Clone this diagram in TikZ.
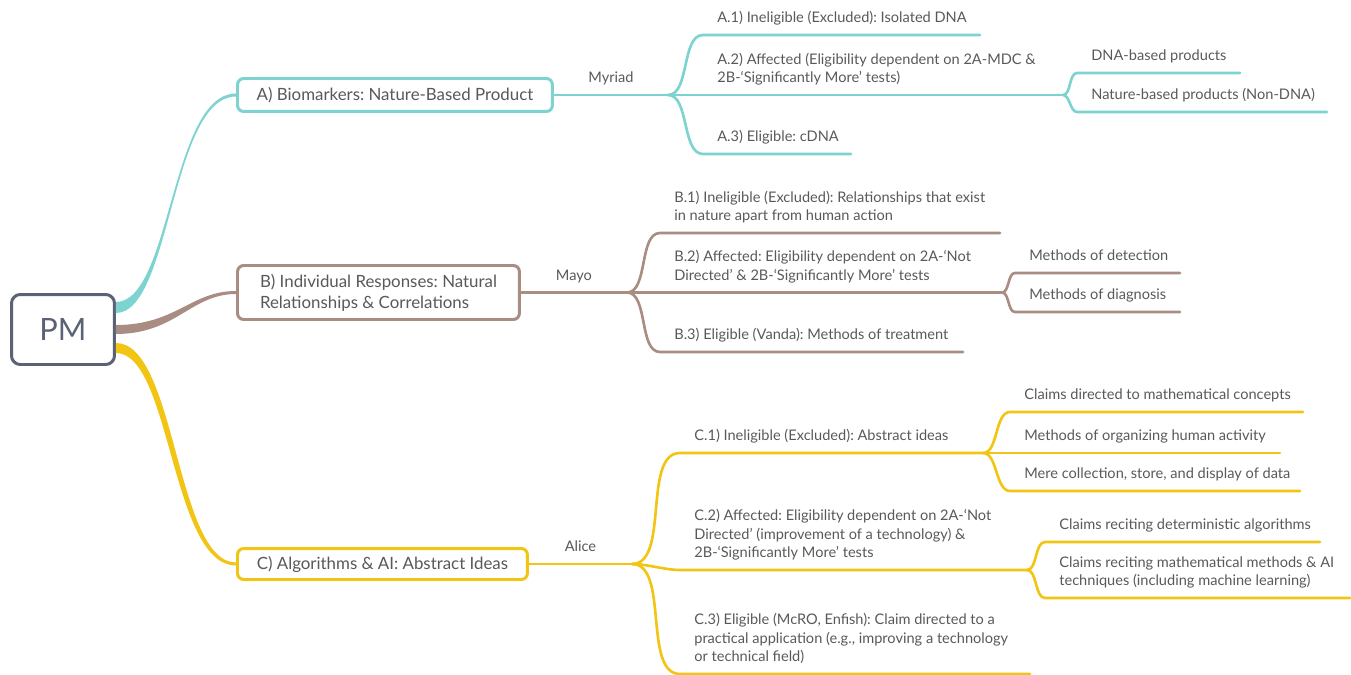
\documentclass[tikz,border=0pt]{standalone}
\usepackage{fontspec}
\setmainfont{Lato}
\usetikzlibrary{calc}
\frenchspacing
\definecolor{pmgray}{HTML}{5B6275}
\definecolor{tealc}{HTML}{7DD3D0}
\definecolor{brownc}{HTML}{A98C82}
\definecolor{yellowc}{HTML}{F2C414}
\definecolor{txtgray}{HTML}{595959}
\tikzset{
  topic/.style={draw, rounded corners=3.5pt, line width=1.7pt, fill=white, anchor=west,
    align=left, text=txtgray, font=\fontsize{9.6}{12}\selectfont},
  leaf/.style={anchor=base west, align=left, inner sep=0pt, text=txtgray,
    font=\fontsize{8.3}{10.5}\selectfont},
  linkname/.style={midway, anchor=base, yshift=7pt, inner sep=0pt, text=txtgray,
    font=\fontsize{8.3}{10.5}\selectfont},
  twig/.style={line width=1.5pt},
}
\begin{document}
\begin{tikzpicture}[x=0.02cm, y=-0.02cm, line cap=round, line join=round]
\useasboundingbox (0,0) rectangle (1351,675);

% root and main topics
\node[draw=pmgray, line width=1.7pt, rounded corners=5pt, minimum width=2.06cm, minimum height=1.4cm,
  text=pmgray, font=\fontsize{17.5}{20}\selectfont] (PM) at (63,329.5) {PM};
\node[topic, draw=tealc, minimum width=6.3cm, minimum height=0.66cm] (A) at (236,95) {A) Biomarkers: Nature-Based Product};
\node[topic, draw=brownc, minimum width=5.64cm, minimum height=1.08cm] (B) at (236,292.5) {B) Individual Responses: Natural\\Relationships \& Correlations};
\node[topic, draw=yellowc, minimum width=5.8cm, minimum height=0.62cm] (C) at (236,564) {C) Algorithms \& AI: Abstract Ideas};

% tapered branches out of the root
\fill[tealc] ($(PM.east)+(0,-27.5)$) .. controls +(55,0) and +(-65,0) .. ($(A.west)+(0,-1.5)$)
  -- ($(A.west)+(0,1.5)$) .. controls +(-65,0) and +(55,0) .. ($(PM.east)+(0,-16.5)$) -- cycle;
\fill[brownc] ($(PM.east)+(0,-4.5)$) .. controls +(60,0) and +(-45,0) .. ($(B.west)+(0,-1.5)$)
  -- ($(B.west)+(0,1.5)$) .. controls +(-45,0) and +(60,0) .. ($(PM.east)+(0,4.5)$) -- cycle;
\fill[yellowc] ($(PM.east)+(0,13.5)$) .. controls +(60,0) and +(-60,0) .. ($(C.west)+(0,-1.5)$)
  -- ($(C.west)+(0,1.5)$) .. controls +(-65,0) and +(55,0) .. ($(PM.east)+(0,23.5)$) -- cycle;

% A) Myriad
\coordinate (Aj) at (668,95);
\draw[twig, tealc] (A.east) -- node[linkname] {Myriad} (Aj);
\foreach \from/\nm/\xs/\yy/\xe/\txt in {
  Aj/a1/703/35/980/{A.1) Ineligible (Excluded): Isolated DNA},
  Aj/a2/703/95/1063/{A.2) Affected (Eligibility dependent on 2A-MDC \&\\2B-‘Significantly More’ tests)},
  Aj/a3/703/154/851/{A.3) Eligible: cDNA},
  a2e/a21/1077/73/1240/{DNA-based products},
  a2e/a22/1077/112/1327/{Nature-based products (Non-DNA)}}
{
  \coordinate (\nm s) at (\xs,\yy);
  \coordinate (\nm e) at (\xe,\yy);
  \draw[twig, tealc] (\from) to[out=0, in=180, looseness=0.8] (\nm s) -- (\nm e);
  \node[leaf] (\nm) at (\xs+14,\yy-12.5) {\txt};
}

% B) Mayo
\coordinate (Bj) at (627,292.5);
\draw[twig, brownc] (B.east) -- node[linkname] {Mayo} (Bj);
\foreach \from/\nm/\xs/\yy/\xe/\txt in {
  Bj/b1/660/233/1000/{B.1) Ineligible (Excluded): Relationships that exist\\in nature apart from human action},
  Bj/b2/660/292.5/1002/{B.2) Affected: Eligibility dependent on 2A-‘Not\\Directed’ \& 2B-‘Significantly More’ tests},
  Bj/b3/660/352/963/{B.3) Eligible (Vanda): Methods of treatment},
  b2e/b21/1015/273/1180/{Methods of detection},
  b2e/b22/1015/312/1180/{Methods of diagnosis}}
{
  \coordinate (\nm s) at (\xs,\yy);
  \coordinate (\nm e) at (\xe,\yy);
  \draw[twig, brownc] (\from) to[out=0, in=180, looseness=0.8] (\nm s) -- (\nm e);
  \node[leaf] (\nm) at (\xs+14,\yy-12.5) {\txt};
}

% C) Alice
\coordinate (Cj) at (632,564);
\draw[twig, yellowc] (C.east) -- node[linkname] {Alice} (Cj);
\foreach \from/\nm/\xs/\yy/\xe/\txt in {
  Cj/c1/680/453/983/{C.1) Ineligible (Excluded): Abstract ideas},
  Cj/c2/680/570/1027/{C.2) Affected: Eligibility dependent on 2A-‘Not\\Directed’ (improvement of a technology) \&\\2B-‘Significantly More’ tests},
  Cj/c3/680/674/1030/{C.3) Eligible (McRO, Enfish): Claim directed to a\\practical application (e.g., improving a technology\\or technical field)},
  c1e/c11/1010/412/1303/{Claims directed to mathematical concepts},
  c1e/c12/1010/453/1280/{Methods of organizing human activity},
  c1e/c13/1010/491/1300/{Mere collection, store, and display of data},
  c2e/c21/1045/542/1320/{Claims reciting deterministic algorithms},
  c2e/c22/1045/598/1350/{Claims reciting mathematical methods \& AI\\techniques (including machine learning)}}
{
  \coordinate (\nm s) at (\xs,\yy);
  \coordinate (\nm e) at (\xe,\yy);
  \draw[twig, yellowc] (\from) to[out=0, in=180, looseness=0.8] (\nm s) -- (\nm e);
  \node[leaf] (\nm) at (\xs+14,\yy-12.5) {\txt};
}
\end{tikzpicture}
\end{document}
